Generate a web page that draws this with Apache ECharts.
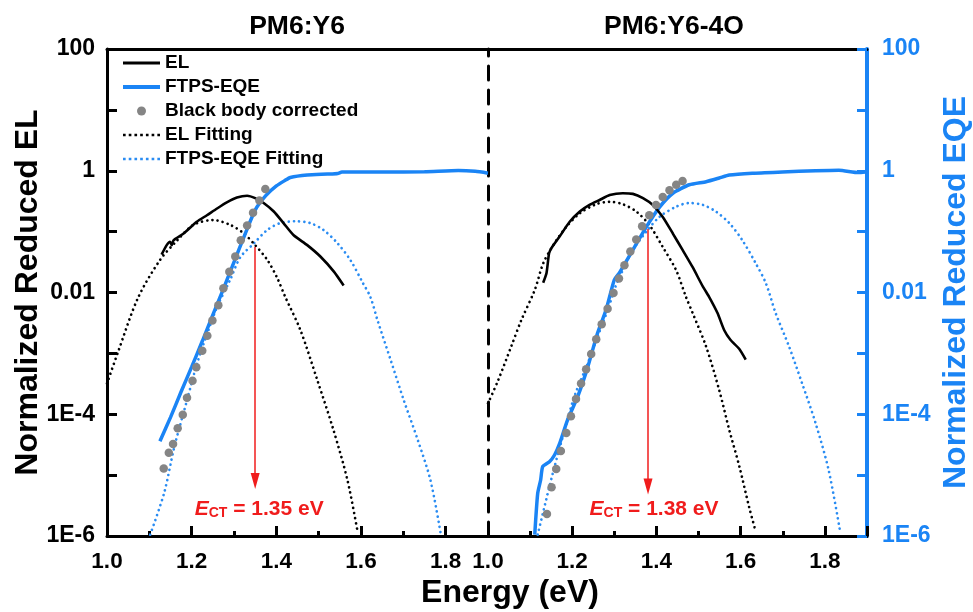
<!DOCTYPE html>
<html>
<head>
<meta charset="utf-8">
<script src="https://cdn.jsdelivr.net/npm/echarts@6/dist/echarts.min.js"></script>
<style>
  html, body { margin: 0; padding: 0; background: #ffffff; }
  #chart { width: 973px; height: 612px; }
</style>
</head>
<body>
<div id="chart"></div>
<script>
// ---- data: [energy (eV), normalized reduced signal] ----
const panelTitles = ['PM6:Y6', 'PM6:Y6-4O'];
const ectValues = [1.35, 1.38];            // charge-transfer state energies (eV)
const ectArrowTop = [0.056, 0.11];         // where the two fits cross
const ectArrowEnd = [8.0e-6, 6.5e-6];

const xTickStep = 0.2;
const yTickExponents = [-6, -4, -2, 0, 2];
const yTickText = ['1E-6', '1E-4', '0.01', '1', '100'];
const legendNames = ['EL', 'FTPS-EQE', 'Black body corrected', 'EL Fitting', 'FTPS-EQE Fitting'];

// PM6:Y6
const y6EL = [
  [1.129, 4.2e-2], [1.141, 6.0e-2], [1.149, 6.8e-2], [1.153, 6.0e-2], [1.157, 7.2e-2],
  [1.181, 9.3e-2], [1.212, 0.145], [1.236, 0.186], [1.260, 0.240], [1.283, 0.302],
  [1.307, 0.363], [1.331, 0.389], [1.350, 0.355], [1.370, 0.295], [1.394, 0.214],
  [1.417, 0.138], [1.441, 8.7e-2], [1.473, 6.0e-2], [1.504, 3.9e-2], [1.536, 2.2e-2],
  [1.559, 1.3e-2]
];
const y6EQE = [
  [1.125, 3.6e-5], [1.150, 8.9e-5], [1.175, 2.34e-4], [1.200, 6.0e-4], [1.225, 1.58e-3],
  [1.250, 4.3e-3], [1.275, 1.15e-2], [1.300, 3.16e-2], [1.325, 8.7e-2], [1.350, 0.226],
  [1.375, 0.389], [1.400, 0.562], [1.420, 0.69], [1.433, 0.776], [1.473, 0.851],
  [1.521, 0.881], [1.545, 0.902], [1.555, 0.955], [1.650, 0.955], [1.750, 0.966],
  [1.830, 1.01], [1.870, 0.977], [1.900, 0.912]
];
const y6BB = [
  [1.134, 1.29e-5], [1.146, 2.34e-5], [1.156, 3.24e-5], [1.167, 5.9e-5], [1.179, 9.8e-5],
  [1.189, 1.86e-4], [1.202, 3.55e-4], [1.211, 5.9e-4], [1.225, 1.10e-3], [1.237, 1.95e-3],
  [1.249, 3.47e-3], [1.263, 6.2e-3], [1.275, 1.17e-2], [1.289, 2.19e-2], [1.303, 3.9e-2],
  [1.316, 7.2e-2], [1.331, 0.126], [1.345, 0.204], [1.360, 0.324], [1.374, 0.50]
];
const y6ELFit = [
  [1.000, 3.2e-4], [1.026, 1.05e-3], [1.073, 8.1e-3], [1.125, 3.4e-2], [1.166, 7.2e-2],
  [1.204, 0.129], [1.251, 0.155], [1.291, 0.129], [1.322, 9.5e-2], [1.350, 6.0e-2],
  [1.379, 3.4e-2], [1.402, 1.74e-2], [1.421, 8.5e-3], [1.457, 2.4e-3], [1.497, 3.6e-4],
  [1.535, 5.5e-5], [1.568, 8.3e-6], [1.592, 1.17e-6]
];
const y6EQEFit = [
  [1.102, 1.05e-6], [1.135, 5.1e-6], [1.159, 2.9e-5], [1.189, 1.70e-4], [1.213, 6.9e-4],
  [1.237, 2.14e-3], [1.260, 5.8e-3], [1.291, 1.62e-2], [1.315, 3.8e-2], [1.346, 6.3e-2],
  [1.379, 0.107], [1.409, 0.138], [1.445, 0.148], [1.480, 0.138], [1.511, 0.107],
  [1.544, 6.5e-2], [1.575, 3.4e-2], [1.604, 1.45e-2], [1.622, 8.5e-3], [1.639, 3.5e-3],
  [1.670, 7.8e-4], [1.701, 1.70e-4], [1.734, 3.8e-5], [1.764, 8.3e-6], [1.788, 1.12e-6]
];

// PM6:Y6-4O
const y64oEL = [
  [1.131, 1.45e-2], [1.139, 2.1e-2], [1.145, 4.4e-2], [1.151, 5.4e-2], [1.170, 8.3e-2],
  [1.194, 0.145], [1.218, 0.214], [1.241, 0.275], [1.265, 0.331], [1.289, 0.398],
  [1.320, 0.427], [1.344, 0.417], [1.368, 0.355], [1.391, 0.275], [1.415, 0.174],
  [1.439, 9.3e-2], [1.462, 5.0e-2], [1.486, 2.6e-2], [1.510, 1.26e-2], [1.525, 8.5e-3],
  [1.545, 4.6e-3], [1.561, 2.4e-3], [1.576, 1.66e-3], [1.596, 1.20e-3], [1.612, 7.9e-4]
];
const y64oEQE = [
  [1.111, 1.05e-6], [1.118, 5.0e-6], [1.125, 8.3e-6], [1.130, 1.38e-5], [1.146, 1.66e-5],
  [1.158, 2.14e-5], [1.170, 3.3e-5], [1.189, 8.1e-5], [1.213, 1.95e-4], [1.237, 6.0e-4],
  [1.260, 2.14e-3], [1.280, 5.1e-3], [1.300, 1.62e-2], [1.312, 2.1e-2], [1.344, 5.0e-2],
  [1.376, 0.120], [1.407, 0.251], [1.439, 0.427], [1.478, 0.589], [1.518, 0.661],
  [1.549, 0.759], [1.573, 0.851], [1.628, 0.912], [1.699, 0.955], [1.778, 1.0],
  [1.833, 1.02], [1.880, 0.933], [1.896, 0.955]
];
const y64oBB = [
  [1.140, 2.3e-6], [1.151, 6.3e-6], [1.162, 1.26e-5], [1.173, 2.5e-5], [1.186, 4.9e-5],
  [1.197, 9.3e-5], [1.209, 1.78e-4], [1.221, 3.2e-4], [1.233, 5.5e-4], [1.245, 9.8e-4],
  [1.257, 1.70e-3], [1.270, 3.0e-3], [1.284, 5.4e-3], [1.298, 9.8e-3], [1.311, 1.70e-2],
  [1.324, 2.8e-2], [1.338, 4.7e-2], [1.352, 7.4e-2], [1.366, 0.123], [1.383, 0.186],
  [1.399, 0.275], [1.415, 0.372], [1.431, 0.479], [1.447, 0.589], [1.462, 0.676]
];
const y64oELFit = [
  [1.000, 1.51e-4], [1.024, 3.6e-4], [1.055, 1.29e-3], [1.079, 3.5e-3], [1.111, 1.10e-2],
  [1.131, 3.0e-2], [1.155, 6.0e-2], [1.186, 0.120], [1.218, 0.200], [1.257, 0.282],
  [1.289, 0.309], [1.320, 0.282], [1.352, 0.214], [1.383, 0.129], [1.415, 5.6e-2],
  [1.447, 2.3e-2], [1.470, 8.5e-3], [1.486, 4.6e-3], [1.518, 1.29e-3], [1.549, 2.5e-4],
  [1.573, 5.5e-5], [1.597, 1.38e-5], [1.620, 3.0e-6], [1.636, 1.17e-6]
];
const y64oEQEFit = [
  [1.118, 1.05e-6], [1.138, 3.9e-6], [1.158, 1.38e-5], [1.182, 5.5e-5], [1.205, 1.95e-4],
  [1.237, 6.9e-4], [1.260, 1.86e-3], [1.284, 5.1e-3], [1.308, 1.58e-2], [1.320, 2.3e-2],
  [1.344, 5.0e-2], [1.376, 0.100], [1.407, 0.174], [1.447, 0.257], [1.478, 0.295],
  [1.510, 0.275], [1.541, 0.214], [1.573, 0.138], [1.604, 7.2e-2], [1.636, 3.0e-2],
  [1.660, 1.41e-2], [1.683, 4.6e-3], [1.715, 1.29e-3], [1.746, 3.2e-4], [1.778, 7.1e-5],
  [1.809, 1.20e-5], [1.837, 1.10e-6]
];

const panels = [
  { el: y6EL, eqe: y6EQE, bb: y6BB, elFit: y6ELFit, eqeFit: y6EQEFit },
  { el: y64oEL, eqe: y64oEQE, bb: y64oBB, elFit: y64oELFit, eqeFit: y64oEQEFit }
];

// ---- styling ----
const FONT = "'Liberation Sans', Arial, Helvetica, sans-serif";
const BLACK = '#000000';
const BLUE = '#1a84f5';
const BLUE_FIT = '#2a8cf2';
const GRAY = '#858585';
const RED = '#f01c1c';
const DOTTED = [0.01, 5.2];   // round-capped dots

// legend glyphs: a solid bar and a row of small dots
const barIcon = h => 'path://M0,0H37V' + h + 'H0Z';
const dotIcon = (() => {
  let d = 'path://';
  for (let k = 0; k < 7; k++) {
    const x = k * 5.6;
    d += 'M' + x + ',0h2.6v2.6h-2.6Z';
  }
  return d;
})();
const legendIcons = [barIcon(3), barIcon(4), 'circle', dotIcon, dotIcon];

function yLabel(v) {
  const e = Math.round(Math.log10(v));
  const i = yTickExponents.indexOf(e);
  return i >= 0 ? yTickText[i] : '';
}

function bottomAxis(gridIndex) {
  return {
    type: 'value', gridIndex, position: 'bottom',
    min: 1.0, max: 1.9, interval: xTickStep,
    axisLine: { show: true, onZero: false, lineStyle: { color: BLACK, width: 3 } },
    axisTick: { show: true, inside: true, length: 10, lineStyle: { color: BLACK, width: 3 } },
    minorTick: { show: true, splitNumber: 2, length: 5, lineStyle: { color: BLACK, width: 3 } },
    splitLine: { show: false },
    minorSplitLine: { show: false },
    axisLabel: {
      show: true, margin: 14, showMaxLabel: false, showMinLabel: true,
      color: BLACK, fontFamily: FONT, fontWeight: 'bold', fontSize: 22.5,
      formatter: v => v.toFixed(1)
    }
  };
}
function topAxis(gridIndex) {
  return {
    type: 'value', gridIndex, position: 'top', min: 1.0, max: 1.9,
    axisLine: { show: true, onZero: false, lineStyle: { color: BLACK, width: 3 } },
    axisTick: { show: false }, axisLabel: { show: false }, splitLine: { show: false }
  };
}
function logAxis(gridIndex, position, extra) {
  return Object.assign({
    type: 'log', logBase: 10, gridIndex, position,
    min: 1e-6, max: 100,
    splitLine: { show: false },
    nameMoveOverlap: false
  }, extra);
}

const series = [];
panels.forEach((p, i) => {
  const xi = i, yi = i === 0 ? 0 : 2;
  const common = { xAxisIndex: xi, yAxisIndex: yi, animation: false, silent: true };
  series.push(Object.assign({
    name: 'FTPS-EQE Fitting', type: 'line', data: p.eqeFit, symbol: 'none', smooth: 0.3, z: 2,
    lineStyle: { color: BLUE_FIT, width: 2.7, type: DOTTED, cap: 'round' }, itemStyle: { color: BLUE_FIT }
  }, common));
  series.push(Object.assign({
    name: 'EL Fitting', type: 'line', data: p.elFit, symbol: 'none', smooth: 0.3, z: 2,
    lineStyle: { color: BLACK, width: 2.7, type: DOTTED, cap: 'round' }, itemStyle: { color: BLACK }
  }, common));
  series.push(Object.assign({
    name: 'FTPS-EQE', type: 'line', data: p.eqe, symbol: 'none', smooth: 0.2, z: 3,
    lineStyle: { color: BLUE, width: 3.5 }, itemStyle: { color: BLUE }
  }, common));
  series.push(Object.assign({
    name: 'EL', type: 'line', data: p.el, symbol: 'none', smooth: 0.2, z: 4,
    lineStyle: { color: BLACK, width: 2.6 }, itemStyle: { color: BLACK }
  }, common));
  series.push(Object.assign({
    name: 'Black body corrected', type: 'scatter', data: p.bb, symbol: 'circle', symbolSize: 8.5, z: 5,
    itemStyle: { color: GRAY, opacity: 1 }
  }, common));
  // E_CT arrow and its label
  const ect = ectValues[i];
  series.push(Object.assign({
    name: 'ECT' + i, type: 'line', data: [], z: 6,
    markLine: {
      silent: true, animation: false,
      symbol: ['none', 'triangle'], symbolSize: [9, 16],
      lineStyle: { color: RED, width: 1.5, type: 'solid' },
      label: { show: false },
      data: [[{ coord: [ect, ectArrowTop[i]] }, { coord: [ect, ectArrowEnd[i]] }]]
    },
    markPoint: {
      silent: true, animation: false, symbol: 'circle', symbolSize: 0,
      label: {
        show: true, position: 'inside', offset: [i === 0 ? 4 : 6, 0],
        formatter: () => '{e|E}{s|CT}{t| = ' + ect.toFixed(2) + ' eV}',
        rich: {
          e: { fontFamily: FONT, fontWeight: 'bold', fontStyle: 'italic', fontSize: 21, color: RED, lineHeight: 24, verticalAlign: 'bottom' },
          s: { fontFamily: FONT, fontWeight: 'bold', fontSize: 14, color: RED, lineHeight: 14, verticalAlign: 'bottom' },
          t: { fontFamily: FONT, fontWeight: 'bold', fontSize: 21, color: RED, lineHeight: 24, verticalAlign: 'bottom' }
        }
      },
      data: [{ coord: [ect, 2.9e-6] }]
    }
  }, common));
});

const chart = echarts.init(document.getElementById('chart'), null, { renderer: 'canvas' });
chart.setOption({
  animation: false,
  backgroundColor: '#ffffff',
  grid: [
    { left: 107, top: 49, width: 381, height: 487, containLabel: false, outerBoundsMode: 'none' },
    { left: 488, top: 49, width: 379, height: 487, containLabel: false, outerBoundsMode: 'none' }
  ],
  legend: {
    show: true, orient: 'vertical', left: 123, top: 53, padding: 0,
    itemWidth: 37, itemHeight: 9, itemGap: 4,
    data: legendNames.map((name, k) => ({ name, icon: legendIcons[k] })),
    selectedMode: false,
    itemStyle: { borderWidth: 0 },
    textStyle: { fontFamily: FONT, fontWeight: 'bold', fontSize: 19, lineHeight: 20, color: BLACK }
  },
  xAxis: [bottomAxis(0), bottomAxis(1), topAxis(0), topAxis(1)],
  yAxis: [
    logAxis(0, 'left', {
      axisLine: { show: true, onZero: false, lineStyle: { color: BLACK, width: 3 } },
      axisTick: { show: true, inside: true, length: 10, lineStyle: { color: BLACK, width: 3 } },
      axisLabel: { show: true, interval: 0, margin: 12, color: BLACK, fontFamily: FONT, fontWeight: 'bold', fontSize: 23, formatter: yLabel },
      name: 'Normalized Reduced EL', nameLocation: 'middle', nameGap: 63,
      nameTextStyle: { color: BLACK, fontFamily: FONT, fontWeight: 'bold', fontSize: 32 }
    }),
    // dashed divider between the two panels
    logAxis(1, 'left', {
      axisLine: { show: true, onZero: false, lineStyle: { color: BLACK, width: 3, type: [14, 10] } },
      axisTick: { show: false }, axisLabel: { show: false }
    }),
    logAxis(1, 'right', {
      axisLine: { show: true, onZero: false, lineStyle: { color: BLUE, width: 4 } },
      axisTick: { show: true, inside: true, length: 10, lineStyle: { color: BLUE, width: 3 } },
      axisLabel: { show: true, interval: 0, margin: 15, color: BLUE, fontFamily: FONT, fontWeight: 'bold', fontSize: 23, formatter: yLabel },
      name: 'Normalized Reduced EQE', nameLocation: 'middle', nameGap: 73,
      nameTextStyle: { color: BLUE, fontFamily: FONT, fontWeight: 'bold', fontSize: 32 }
    })
  ],
  graphic: [
    { type: 'text', x: 297, y: 27, silent: true,
      style: { text: panelTitles[0], align: 'center', verticalAlign: 'middle', fill: BLACK, font: 'bold 26.5px ' + FONT } },
    { type: 'text', x: 674, y: 27, silent: true,
      style: { text: panelTitles[1], align: 'center', verticalAlign: 'middle', fill: BLACK, font: 'bold 26.5px ' + FONT } },
    { type: 'text', x: 510, y: 593, silent: true,
      style: { text: 'Energy (eV)', align: 'center', verticalAlign: 'middle', fill: BLACK, font: 'bold 32px ' + FONT } }
  ],
  series
});
</script>
</body>
</html>
